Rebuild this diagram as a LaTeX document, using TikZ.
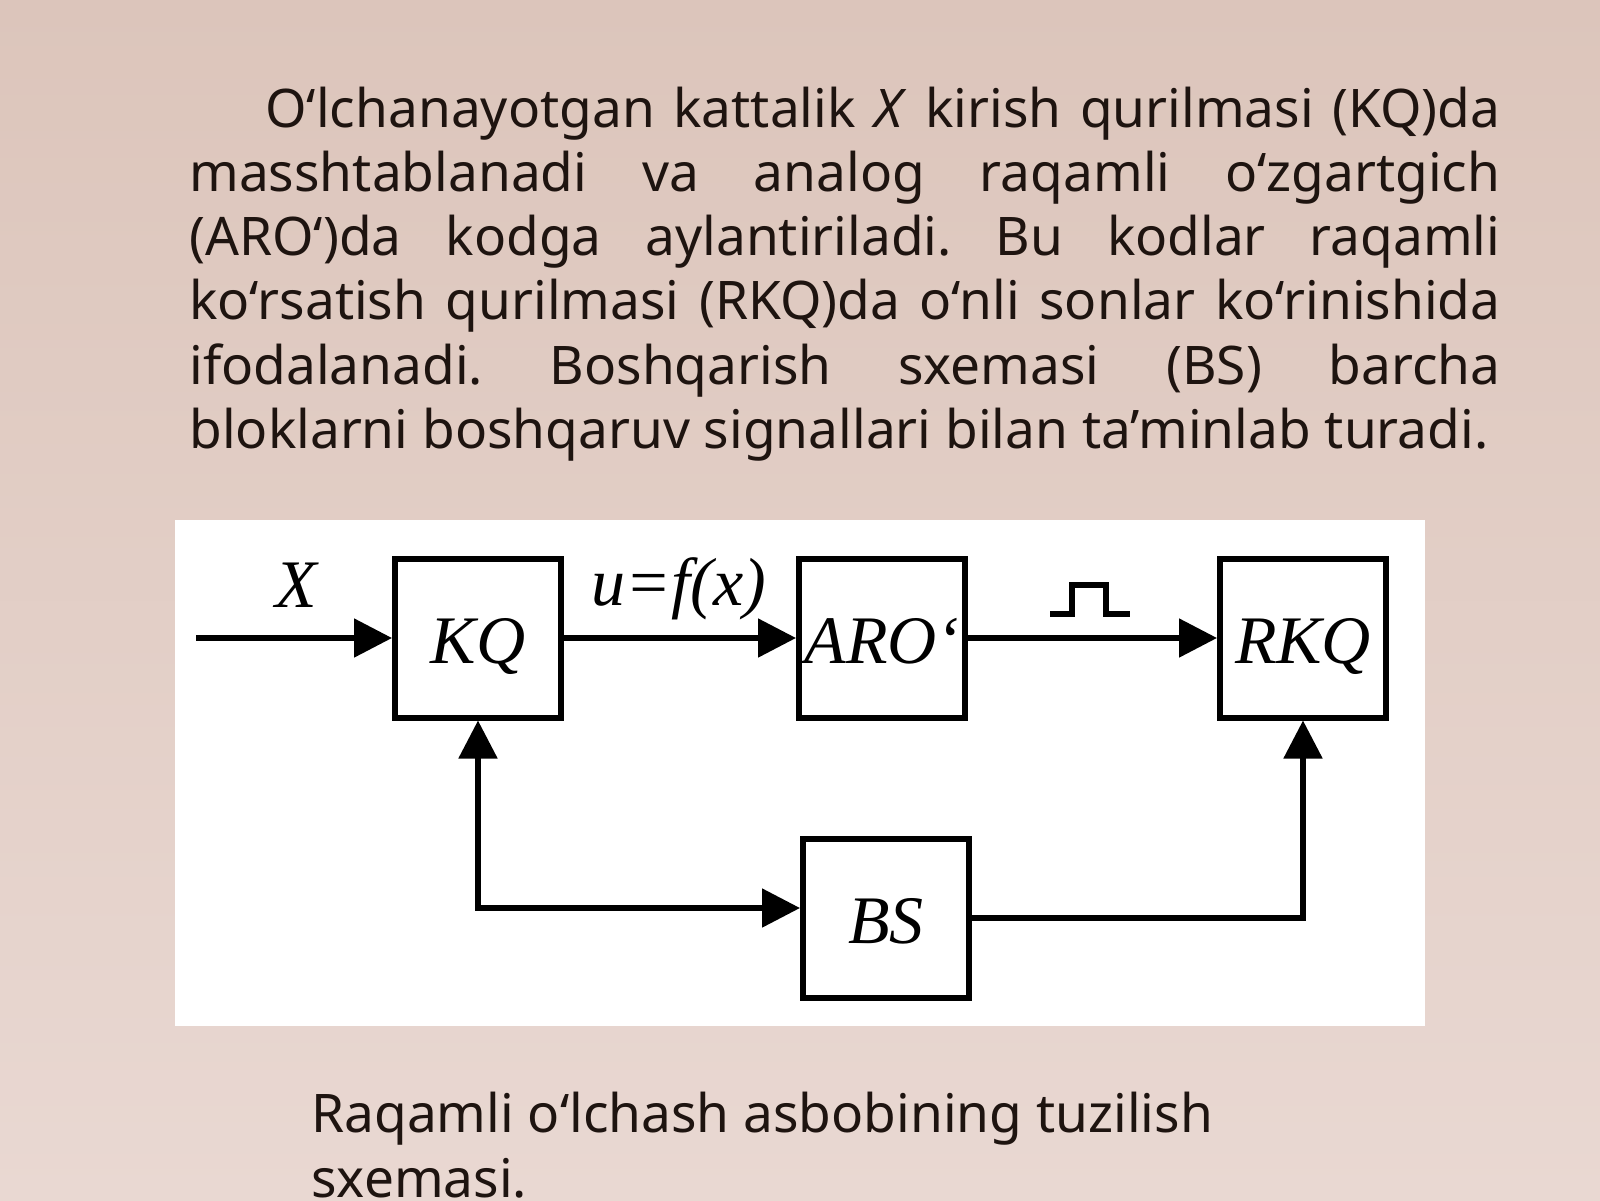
\documentclass[tikz,border=0pt]{standalone}
\usepackage{fontspec}
\setmainfont{Noto Sans}
\newfontfamily\skfont{Liberation Serif}
\usetikzlibrary{arrows.meta,positioning}
\definecolor{fontepa}{HTML}{DCC5BB}
\definecolor{fonorta}{HTML}{D6AEA2}
\definecolor{fonpast}{HTML}{E9D8D2}
\definecolor{matnrang}{HTML}{1E1410}
\tikzset{
  blok/.style={draw,line width=3pt,fill=white,minimum width=83pt,minimum height=79.5pt,
    inner sep=0pt,text height=25pt,text depth=0pt,font=\skfont\itshape\fontsize{34}{40}\selectfont},
  strelka/.style={line width=2.6pt,-{Triangle[length=19pt,width=19pt]}},
  belgi/.style={font=\skfont\itshape\fontsize{34}{40}\selectfont,inner sep=0pt}
}
\frenchspacing
\begin{document}
\begin{tikzpicture}[x=0.5pt,y=-0.5pt]
  \useasboundingbox (0,0) rectangle (1600,1200);
  % fon
  \shade[top color=fontepa,middle color=fonorta,bottom color=fonpast] (0,0) rectangle (1600,1200);
  % matn
  \node[anchor=base west,inner sep=0pt,text width=655.5pt,align=justify,text=matnrang,
    font=\fontsize{26.6}{32.15}\selectfont] (matn) at (189,127)
    {\hspace*{38pt}O‘lchanayotgan kattalik \textit{X} kirish qurilmasi (KQ)da\linebreak
     masshtablanadi va analog raqamli o‘zgartgich\linebreak
     (ARO‘)da kodga aylantiriladi. Bu kodlar raqamli\linebreak
     ko‘rsatish qurilmasi (RKQ)da o‘nli sonlar ko‘rinishida\linebreak
     ifodalanadi. Boshqarish sxemasi (BS) barcha\linebreak
     bloklarni boshqaruv signallari bilan ta’minlab turadi.};
  % sxema
  \fill[white] (175,520) rectangle (1425,1026);
  \node[blok] (kq) at (478,638) {KQ};
  \node[blok] (aro) at (882,638) {ARO‘};
  \node[blok] (rkq) at (1303,638) {RKQ};
  \node[blok] (bs) at (886,918) {BS};
  \coordinate (kirish) at (196,638);
  \draw[strelka] (kirish) -- (kq);
  \draw[strelka] (kq) -- (aro);
  \draw[strelka] (aro) -- (rkq);
  \draw[strelka,{Triangle[length=19pt,width=19pt]}-{Triangle[length=19pt,width=19pt]}]
    (kq.south) |- ([yshift=5pt]bs.west);
  \draw[strelka] (bs.east) -| (rkq.south);
  \node[belgi] (xbelgi) at (296,585) {X};
  \node[belgi] (ubelgi) at (679,589) {u=f(x)};
  \draw[line width=3.2pt] (1050,614) -- (1072,614) -- (1072,585) -- (1106,585) -- (1106,614) -- (1130,614);
  % izoh
  \node[anchor=base west,inner sep=0pt,align=left,text=matnrang,
    font=\fontsize{26.6}{32.5}\selectfont] (izoh) at (311,1197)
    {Raqamli o‘lchash asbobining tuzilish\\ sxemasi.};
\end{tikzpicture}
\end{document}
